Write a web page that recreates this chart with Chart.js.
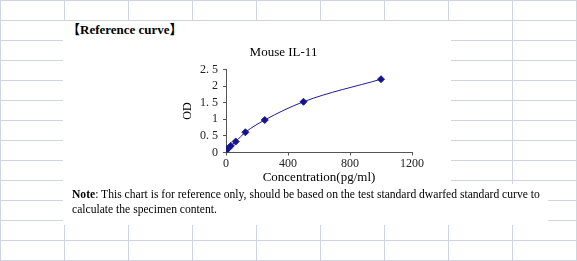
<!DOCTYPE html>
<html lang="en">
<head>
    <meta charset="UTF-8">
    <title>Mouse IL-11 Reference curve</title>
    <script src="https://cdn.jsdelivr.net/npm/chart.js"></script>
    <style>
        body {
            margin: 0;
            width: 577px;
            height: 261px;
            overflow: hidden;
            position: relative;
            background-color: #fff;
            background-image:
                linear-gradient(to right, #cfd4e0 1px, transparent 1px),
                linear-gradient(to bottom, #cfd4e0 1px, transparent 1px);
            background-size: 64px 20px;
            font-family: "Liberation Serif", "Noto Sans CJK SC", serif;
        }
        .panel { position: absolute; background: #fff; }
        #head {
            position: absolute; left: 67px; top: 19px;
            font-size: 13px; font-weight: bold; color: #000;
        }
        #note {
            position: absolute; left: 72px; top: 188px; width: 490px;
            font-size: 11.6px; line-height: 14.5px; color: #000;
        }
        #chartBox { position: absolute; left: 155px; top: 40px; width: 285px; height: 150px; }
    </style>
</head>
<body>
    <div class="panel" style="left:63px;top:21px;width:388px;height:165px"></div>
    <div class="panel" style="left:63px;top:184px;width:485px;height:41px"></div>
    <div id="head">【Reference curve】</div>
    <div id="chartBox"><canvas id="curve" width="285" height="150"></canvas></div>
    <div id="note"><b>Note</b>: This chart is for reference only, should be based on the test standard dwarfed standard curve to<br>calculate the specimen content.</div>

    <script>
        // standard points
        const concentration = [0, 15.6, 31.25, 62.5, 125, 250, 500, 1000];
        const od = [0.05, 0.13, 0.20, 0.33, 0.61, 0.98, 1.53, 2.21];
        const xTicks = [0, 400, 800, 1200];
        const yTicks = [0, 0.5, 1, 1.5, 2, 2.5];

        const points = concentration.map((c, i) => ({ x: c, y: od[i] }));
        const serif = 'Liberation Serif';

        new Chart(document.getElementById('curve'), {
            type: 'line',
            data: {
                datasets: [{
                    label: 'Mouse IL-11',
                    data: points,
                    borderColor: '#1c1c96',
                    backgroundColor: '#141488',
                    borderWidth: 1,
                    pointStyle: 'rectRot',
                    pointRadius: 3.5,
                    cubicInterpolationMode: 'monotone'
                }]
            },
            options: {
                responsive: false,
                animation: false,
                layout: { padding: { left: 0, right: 28, top: 0, bottom: 0 } },
                plugins: {
                    legend: { display: false },
                    tooltip: { enabled: false },
                    title: {
                        display: true,
                        text: 'Mouse IL-11',
                        color: '#000',
                        font: { family: serif, size: 13, weight: 'normal' },
                        padding: { top: 5, bottom: 9 }
                    }
                },
                scales: {
                    x: {
                        type: 'linear',
                        min: 0, max: 1200,
                        afterBuildTicks: (s) => { s.ticks = xTicks.map(v => ({ value: v })); },
                        afterFit: (s) => { s.height = 37.5; },
                        grid: { display: true, drawOnChartArea: false, tickLength: 3, color: '#555' },
                        border: { color: '#555' },
                        ticks: {
                            color: '#222', padding: 1, autoSkip: false, maxRotation: 0,
                            font: { family: serif, size: 12 },
                            callback: (v) => String(v)
                        },
                        title: {
                            display: true,
                            text: 'Concentration(pg/ml)',
                            color: '#000',
                            font: { family: serif, size: 13 },
                            padding: { top: 0, bottom: 5 }
                        }
                    },
                    y: {
                        min: 0, max: 2.5,
                        afterBuildTicks: (s) => { s.ticks = yTicks.map(v => ({ value: v })); },
                        afterFit: (s) => { s.width = 71; },
                        grid: { display: true, drawOnChartArea: false, tickLength: 3, color: '#555' },
                        border: { color: '#555' },
                        ticks: {
                            color: '#222', padding: 5, autoSkip: false,
                            font: { family: serif, size: 12 },
                            callback: (v) => String(v).replace('.', '. ')
                        },
                        title: {
                            display: true,
                            text: 'OD',
                            color: '#000',
                            font: { family: serif, size: 12 },
                            padding: { top: 26, bottom: 0 }
                        }
                    }
                }
            }
        });
    </script>
</body>
</html>
